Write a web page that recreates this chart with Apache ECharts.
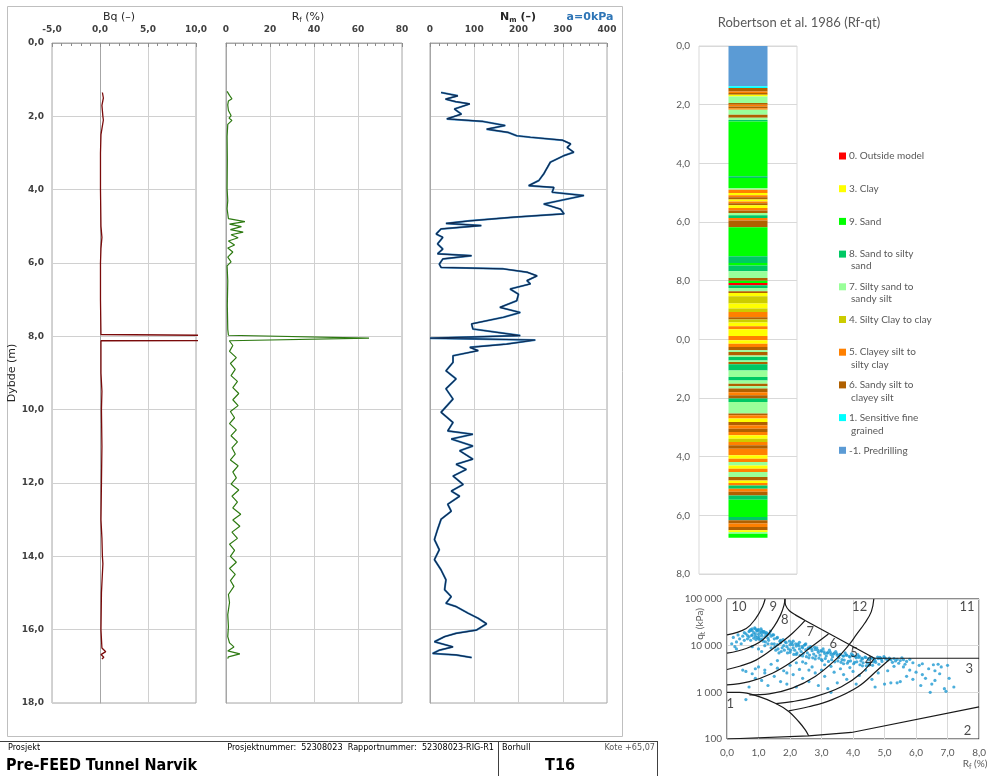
<!DOCTYPE html>
<html>
<head>
<meta charset="utf-8">
<script src="https://cdn.jsdelivr.net/npm/echarts@6/dist/echarts.min.js"></script>
<style>
  html, body { margin: 0; padding: 0; background: #fff; }
  #chart { width: 989px; height: 776px; }
</style>
</head>
<body>
<div id="chart"></div>
<script>
// ---- CPT sounding T16 ----
var bqDepth = [1.35, 1.5, 1.7, 2.0, 2.1, 2.5, 3.0, 4.0, 5.0, 5.3, 5.6, 6.0, 7.0, 7.95, 8.03, 8.10, 8.12, 9.0, 9.5, 10.0, 11.0, 12.0, 13.0, 13.5, 14.0, 14.2, 15.0, 16.0, 16.5, 16.6, 16.68, 16.75, 16.8];
var bqValue = [0.25, 0.35, 0.2, 0.3, 0.35, 0.1, 0.05, 0.05, 0.1, 0.2, 0.1, 0.05, 0.05, 0.1, 40, 40, 0.1, 0.1, 0.2, 0.15, 0.2, 0.15, 0.1, 0.2, 0.25, 0.3, 0.15, 0.1, 0.2, 0.6, 0.1, 0.4, 0.2];

var rfDepth = [1.32, 1.43, 1.52, 1.58, 1.69, 1.84, 1.98, 2.05, 2.11, 2.22, 2.55, 3.2, 3.97, 4.30, 4.52, 4.79, 4.87, 4.94, 5.01, 5.09, 5.16, 5.23, 5.31, 5.40, 5.51, 5.59, 5.70, 5.84, 5.97, 6.08, 6.49, 7.15, 7.81, 7.97, 8.05, 8.12,
  8.25, 8.41, 8.58, 8.74, 8.90, 9.07, 9.23, 9.40, 9.56, 9.73, 9.89, 10.05, 10.22, 10.38, 10.55, 10.71, 10.88, 11.04, 11.21, 11.37, 11.53, 11.70, 11.86, 12.03, 12.19, 12.36, 12.52, 12.68, 12.85, 13.01, 13.18, 13.34, 13.51, 13.67, 13.84, 14.0,
  14.16, 14.33, 14.49, 14.66, 14.82, 15.04, 15.26, 15.59, 15.92, 16.19, 16.36, 16.47, 16.58, 16.66, 16.74, 16.79];
var rfValue = [0.5, 1.6, 2.7, 1.1, 0.8, 1.1, 2.3, 1.4, 2.7, 0.8, 0.5, 0.6, 0.5, 0.8, 0.5, 1.1, 8.6, 1.6, 7.0, 2.0, 7.8, 2.3, 5.5, 1.1, 3.9, 0.8, 3.1, 0.8, 2.3, 0.5, 0.8, 0.6, 0.8, 1.1, 65, 1.5,
  3.1, 1.6, 4.7, 2.0, 4.2, 2.3, 5.2, 3.1, 5.8, 3.1, 5.5, 2.0, 3.9, 1.6, 4.7, 2.3, 5.2, 2.7, 4.2, 2.0, 5.5, 3.1, 4.7, 2.3, 5.8, 2.7, 5.2, 3.1, 6.7, 3.1, 6.3, 2.7, 5.2, 1.6, 3.9, 2.0,
  4.7, 1.6, 4.2, 2.0, 3.6, 1.1, 1.6, 0.8, 1.1, 0.8, 1.6, 3.6, 0.8, 6.3, 1.1, 0.8];

var nmDepth = [1.35, 1.44, 1.53, 1.60, 1.66, 1.80, 1.94, 2.07, 2.14, 2.19, 2.25, 2.35, 2.44, 2.53, 2.57, 2.65, 2.75, 2.85, 2.98, 3.07, 3.25, 3.44, 3.57, 3.75, 3.89, 3.94, 4.07, 4.16, 4.39, 4.53, 4.66, 4.75, 4.85, 4.92, 4.98, 5.07,
  5.21, 5.30, 5.48, 5.62, 5.75, 5.80, 5.89, 6.03, 6.12, 6.16, 6.25, 6.35, 6.48, 6.57, 6.71, 6.85, 7.03, 7.21, 7.35, 7.48, 7.66, 7.80, 7.98, 8.05, 8.10, 8.21, 8.30, 8.39, 8.53, 8.71, 8.94, 9.16, 9.43, 9.71,
  10.07, 10.35, 10.58, 10.67, 10.80, 10.99, 11.12, 11.35, 11.49, 11.63, 11.81, 12.04, 12.22, 12.36, 12.58, 12.77, 12.99, 13.27, 13.54, 13.82, 14.09, 14.37, 14.64, 14.91, 15.10, 15.28, 15.37, 15.55, 15.69, 15.84,
  16.01, 16.10, 16.19, 16.33, 16.47, 16.56, 16.65, 16.69, 16.76];
var nmValue = [25, 63, 35, 58, 90, 55, 71, 38, 120, 124, 170, 128, 177, 196, 227, 299, 318, 310, 325, 303, 272, 263, 257, 246, 223, 280, 276, 348, 257, 295, 303, 189, 90, 36, 116, 25,
  14, 29, 17, 29, 17, 94, 29, 21, 25, 166, 219, 242, 219, 227, 181, 200, 196, 158, 204, 166, 94, 97, 204, 0, 238, 173, 90, 109, 52, 52, 36, 59, 36, 52,
  25, 52, 40, 97, 48, 97, 67, 97, 59, 82, 52, 75, 48, 67, 40, 48, 25, 17, 10, 21, 10, 25, 36, 33, 48, 36, 59, 86, 109, 128,
  105, 59, 33, 10, 52, 21, 6, 59, 94];

// ---- Robertson et al. 1986 soil column ----
var classCodes = [0, 3, 9, 8, 7, 4, 5, 6, 1, -1];
var classNames = ['0. Outside model', '3. Clay', '9. Sand', '8. Sand to silty sand', '7. Silty sand to sandy silt', '4. Silty Clay to clay',
  '5. Clayey silt to silty clay', '6. Sandy silt to clayey silt', '1. Sensitive fine grained', '-1. Predrilling'];
var classColors = ['#FF0000', '#FFFF00', '#00FF00', '#00C864', '#99FF99', '#CCCC00', '#FF8000', '#B06000', '#00FFFF', '#5B9BD5'];

var layerBottom = [1.375, 1.43, 1.55, 1.60, 1.66, 1.72, 1.94, 2.00, 2.06, 2.12, 2.17, 2.34, 2.45, 2.52, 2.57, 4.44, 4.50, 4.84, 4.90, 5.01,
  5.09, 5.16, 5.23, 5.30, 5.36, 5.43, 5.52, 5.61, 5.69, 5.77, 5.86, 5.95, 6.18, 7.17, 7.40, 7.48, 7.68, 7.91, 8.00, 8.08,
  8.16, 8.25, 8.36, 8.42, 8.53, 8.78, 8.95, 9.07, 9.25, 9.32, 9.43, 9.55, 9.66, 9.89, 10.03, 10.15, 10.26, 10.37, 10.43, 10.55,
  10.60, 10.72, 10.77, 10.85, 11.06, 11.28, 11.40, 11.51, 11.60, 11.68, 11.80, 11.91, 12.02, 12.14, 12.53, 12.59, 12.70, 12.82, 12.93, 13.05,
  13.16, 13.27, 13.39, 13.50, 13.61, 13.73, 13.95, 14.07, 14.18, 14.30, 14.41, 14.52, 14.69, 14.81, 14.90, 14.98, 15.09, 15.20, 15.32, 15.47,
  16.06, 16.17, 16.28, 16.40, 16.51, 16.57, 16.63, 16.76];
var layerClass = [-1, 1, 6, 5, 6, 3, 7, 6, 5, 6, 5, 7, 6, 7, 8, 9, 8, 9, 7, 5,
  3, 5, 6, 3, 5, 6, 3, 5, 6, 7, 8, 5, 6, 9, 8, 9, 8, 7, 6, 9,
  0, 8, 7, 6, 3, 4, 3, 4, 5, 6, 4, 3, 5, 3, 5, 3, 5, 6, 7, 6,
  7, 8, 7, 6, 8, 7, 8, 7, 6, 7, 6, 5, 6, 8, 7, 6, 5, 3, 6, 5,
  6, 5, 3, 4, 5, 6, 5, 3, 5, 7, 3, 5, 7, 6, 3, 5, 8, 5, 6, 8,
  9, 8, 6, 5, 6, 3, 7, 9];

// ---- Rf - qt classification chart ----
var pointRf = [0.7, 0.75, 0.8, 0.85, 0.9, 0.95, 1.0, 1.05, 1.1, 1.15, 1.2, 1.25, 1.3, 1.35, 0.8, 0.9, 1.0, 1.1, 0.7, 0.85, 0.95, 1.2, 1.4, 1.5, 0.6, 0.65, 1.05, 1.3, 0.75, 1.15, 1.45, 0.55, 0.9, 1.0, 1.25, 0.8, 0.95, 1.1, 1.6, 1.7,
  0.2, 0.25, 0.3, 0.35, 0.4, 0.45, 0.5, 0.3, 0.55, 0.15,
  1.5, 1.6, 1.7, 1.8, 1.9, 2.0, 2.1, 2.2, 2.3, 2.4, 2.5, 2.6, 2.7, 2.8, 2.9, 3.0, 3.1, 3.2, 3.3, 3.4, 3.5, 1.75, 1.85, 1.95, 2.05, 2.15, 2.25, 2.35, 2.45, 2.55, 2.65, 2.75, 2.85, 2.95, 3.05, 3.15, 3.25, 3.35, 3.45, 3.55,
  1.55, 1.65, 2.0, 2.2, 2.4, 2.6, 2.8, 3.0, 2.1, 2.3, 2.5, 1.2, 1.3, 1.4, 1.0, 0.8, 1.1,
  3.6, 3.7, 3.8, 3.9, 4.0, 4.1, 4.2, 4.3, 4.4, 4.5, 4.6, 4.7, 4.8, 4.9, 5.0, 3.65, 3.85, 4.05, 4.25, 4.45, 4.65, 4.85, 3.75, 3.95, 4.15,
  5.05, 5.1, 5.15, 5.2, 5.3, 5.35, 5.4, 5.5, 5.6, 5.7, 5.8, 5.25, 5.45, 5.65, 5.9, 5.55,
  5.6, 5.8, 6.0, 6.1, 6.2, 6.3, 6.4, 6.5, 6.55, 6.6, 6.7, 6.75, 6.8, 6.9, 7.0, 7.05, 6.45, 6.95, 7.2, 5.4, 5.2, 5.5, 5.0, 5.7, 6.15,
  0.6, 0.7, 0.5, 0.6, 0.8, 0.9, 1.0, 1.1, 1.2, 1.3, 1.5, 1.6, 1.7, 1.8, 1.9, 2.0, 2.1, 2.2, 2.3, 2.4, 2.5, 2.6, 2.7, 2.8, 2.9, 3.0, 3.1, 3.2, 3.3, 3.4, 3.5, 3.6, 3.7, 3.8, 3.9, 4.0, 4.1, 4.2, 4.4, 4.6, 4.7, 3.3, 4.3, 2.4, 1.4,
  0.65, 0.72, 0.78, 0.88, 0.92, 0.98, 1.02, 1.08, 1.12, 1.18, 1.22, 1.28, 1.32, 1.38, 1.42, 1.48, 1.52, 1.58, 1.62, 1.68, 1.72, 1.78, 1.82, 1.88, 1.92, 1.98, 2.02, 2.08, 2.12, 2.18,
  2.22, 2.28, 2.32, 2.38, 2.42, 2.48, 2.52, 2.58, 2.62, 2.68, 2.72, 2.78, 2.82, 2.88, 2.92, 2.98, 3.02, 3.08, 3.12, 3.18, 3.22, 3.28, 3.32, 3.38, 3.42, 3.48, 3.52, 3.58, 3.62, 3.68,
  3.72, 3.78, 3.82, 3.88, 3.92, 3.98, 4.02, 4.08, 4.12, 4.18, 4.22, 4.28, 4.32, 4.38, 4.42, 4.48, 4.52, 4.58, 4.62, 4.68, 4.72, 4.78, 4.82, 4.88, 4.92, 4.98,
  1.9, 2.6, 3.1, 2.2, 1.6, 1.2, 0.9, 3.7, 4.5, 4.8, 5.1, 5.3, 6.2, 6.6, 5.9];
var pointQt = [20000, 22000, 21000, 19000, 23000, 20500, 22000, 19500, 21000, 20000, 18500, 19000, 17500, 18000, 17000, 16000, 17500, 16500, 15500, 14500, 15000, 15500, 16000, 14000, 18000, 16500, 13500, 14500, 13000, 12500, 17000, 19000, 18000, 14000, 16500, 23000, 21500, 18500, 15000, 13000,
  15000, 9500, 12000, 17000, 14000, 11000, 16000, 8500, 13000, 11000,
  11000, 10500, 11500, 10000, 9500, 10500, 9000, 9800, 8500, 9000, 8200, 8800, 7800, 8300, 7200, 7600, 6800, 7100, 6500, 6900, 6200, 9000, 12000, 8500, 11500, 8000, 10800, 7500, 10200, 7000, 9500, 6600, 9000, 6300, 8500, 6000, 8000, 5800, 7500, 5600,
  8000, 7000, 7200, 6500, 6000, 5500, 5200, 5000, 12500, 11800, 11000, 10000, 11000, 9000, 8500, 9500, 7500,
  6500, 6000, 6300, 5700, 6100, 5500, 5900, 5200, 5600, 5000, 5400, 4800, 5300, 5100, 5500, 5000, 4600, 4400, 4700, 4300, 4500, 5600, 7000, 6700, 6400,
  5200, 4900, 5400, 5000, 5300, 4700, 5100, 4800, 5000, 4600, 5100, 4400, 4200, 4000, 4300, 5500,
  3500, 3000, 2700, 3800, 2400, 2000, 3200, 1500, 3900, 1800, 4000, 2500, 3500, 1200, 3800, 2000, 1000, 1050, 1300, 1600, 1600, 1700, 1500, 2200, 1400,
  700, 1300, 3000, 2800, 2500, 2000, 3500, 1800, 2600, 1400, 2200, 3300, 1700, 2900, 1500, 3800, 2400, 1300, 3100, 2000, 4200, 1700, 3500, 2600, 1400, 3000, 2200, 1200, 3600, 2700, 1600, 3200, 2400, 1900, 3400, 2800, 1500, 2300, 3000, 1900, 1300, 1000, 3700, 4500, 4000,
  14000, 21000, 16500, 24000, 13500, 21500, 15500, 23000, 14000, 20000, 12000, 18000, 13000, 20500, 11000, 17000, 9500, 14500, 8500, 12500, 7500, 13500, 8000, 11500, 7000, 12500, 8000, 10500, 6500, 11000,
  7000, 10000, 6200, 9500, 6800, 10500, 5800, 9000, 6300, 8700, 5500, 9200, 6000, 8000, 5400, 7800, 4800, 7400, 5300, 6900, 4600, 7200, 5000, 6600, 4500, 6800, 4700, 6400, 4400, 6000,
  4900, 6300, 4200, 5900, 4700, 6200, 4100, 5800, 4500, 5600, 3900, 5400, 4300, 5700, 3700, 5300, 4100, 5500, 3800, 5200, 4400, 5700, 4000, 5400, 4600, 5800,
  2600, 3000, 3900, 4300, 4800, 3000, 3200, 4100, 3800, 2600, 2900, 3600, 4100, 2900, 1900];

// zone boundaries, [Rf, qt]
var boundaries = [
  { smooth: 0.4, pts: [[0, 17000], [0.61, 23400], [0.92, 38900], [1.13, 69200], [1.21, 100000]] },
  { smooth: 0.4, pts: [[1.84, 100000], [1.81, 74000], [1.70, 45700], [1.49, 25700], [1.13, 13200], [0.61, 8700], [0, 6900]] },
  { smooth: 0.3, pts: [[1.84, 100000], [1.86, 74000], [1.98, 56000], [2.17, 45700], [2.48, 34700]] },
  { smooth: false, pts: [[2.48, 34700], [4.68, 5370], [8, 5370]] },
  { smooth: 0.4, pts: [[2.48, 34700], [2.07, 18200], [1.55, 9550], [0.92, 4900], [0.40, 3630], [0, 3090]] },
  { smooth: 0.4, pts: [[3.22, 17800], [2.69, 9550], [2.07, 4570], [1.44, 2570], [0.71, 1700], [0, 1445]] },
  { smooth: 0.4, pts: [[4.66, 100000], [4.58, 53700], [4.37, 30200], [4.10, 17000], [3.90, 11000], [3.43, 4900], [2.80, 2190], [2.07, 1230], [1.34, 930], [0.71, 880]] },
  { smooth: 0.4, pts: [[4.68, 5370], [4.26, 2570], [3.63, 1320], [2.80, 810], [2.07, 630], [1.55, 575]] },
  { smooth: 0.4, pts: [[5.2, 5370], [4.78, 3020], [4.16, 1320], [3.32, 690], [2.59, 490], [1.96, 400]] },
  { smooth: 0.4, pts: [[0, 1000], [0.40, 1000], [1.02, 810], [1.55, 575], [1.96, 390], [2.28, 234], [2.49, 155], [2.59, 117]] },
  { smooth: false, pts: [[0, 100], [2.59, 117], [3.95, 138], [8, 490]] }
];
var zoneNames = ['10', '9', '8', '7', '6', '5', '4', '3', '2', '1', '11', '12'];
var zoneRf = [0.38, 1.47, 1.83, 2.64, 3.37, 4.03, 4.50, 7.69, 7.63, 0.10, 7.62, 4.21];
var zoneQt = [69000, 69000, 35500, 19500, 11200, 6900, 4400, 3240, 151, 560, 69000, 69000];

var depthTicks = 2;
var fLeft = 'DejaVu Sans';
var fRight = 'Lato';

function comma1(v) { return v.toFixed(1).replace('.', ','); }
function pairs(xs, ys) { return xs.map(function (x, i) { return [x, ys[i]]; }); }

var chart = echarts.init(document.getElementById('chart'), null, { renderer: 'canvas' });

var panelAxisX = function (idx, min, max, step, fmt) {
  return {
    gridIndex: idx, type: 'value', position: 'top', min: min, max: max, interval: step,
    axisLine: { show: true, lineStyle: { color: '#A6A6A6' } },
    axisTick: { show: true, inside: true, length: 4, lineStyle: { color: '#8C8C8C' } },
    minorTick: { show: true, splitNumber: 5, length: 3, lineStyle: { color: '#8C8C8C' } },
    splitLine: { show: true, lineStyle: { color: '#D0D0D0' } },
    axisLabel: { margin: 9, fontFamily: fLeft, fontSize: 9, fontWeight: 'bold', color: '#404040', formatter: fmt }
  };
};
var panelAxisY = function (idx, showLabel) {
  return {
    gridIndex: idx, type: 'value', inverse: true, min: 0, max: 18, interval: depthTicks,
    axisLine: { show: true, lineStyle: { color: '#A6A6A6' } },
    axisTick: { show: false },
    splitLine: { show: true, lineStyle: { color: '#D0D0D0' } },
    axisLabel: { show: showLabel, margin: 8, fontFamily: fLeft, fontSize: 9, fontWeight: 'bold', color: '#404040', formatter: comma1 },
    name: showLabel ? 'Dybde (m)' : '', nameLocation: 'middle', nameGap: 33,
    nameTextStyle: { fontFamily: fLeft, fontSize: 11, color: '#262626' }
  };
};

var series = [];
series.push({ type: 'line', xAxisIndex: 0, yAxisIndex: 0, data: pairs(bqValue, bqDepth), showSymbol: false, clip: true,
  lineStyle: { color: '#7A0A0A', width: 1.3 } });
series.push({ type: 'line', xAxisIndex: 1, yAxisIndex: 1, data: pairs(rfValue, rfDepth), showSymbol: false, clip: true,
  lineStyle: { color: '#2E7A12', width: 1.2 } });
series.push({ type: 'line', xAxisIndex: 2, yAxisIndex: 2, data: pairs(nmValue, nmDepth), showSymbol: false, clip: true,
  lineStyle: { color: '#3C8CC8', width: 2 } });
series.push({ type: 'line', xAxisIndex: 2, yAxisIndex: 2, data: pairs(nmValue, nmDepth), showSymbol: false, clip: true,
  lineStyle: { color: '#102A50', width: 1.2 } });

// soil column, stacked from the surface down
var prev = 0;
layerBottom.forEach(function (bot, i) {
  var k = classCodes.indexOf(layerClass[i]);
  series.push({
    type: 'bar', name: classNames[k], xAxisIndex: 3, yAxisIndex: 3, stack: 'soil', barWidth: 39,
    data: [+(bot - prev).toFixed(3)], itemStyle: { color: classColors[k] }
  });
  prev = bot;
});

series.push({ type: 'scatter', xAxisIndex: 4, yAxisIndex: 4, data: pairs(pointRf, pointQt), symbolSize: 3.2,
  itemStyle: { color: '#1F9AD2' }, z: 3 });
boundaries.forEach(function (b) {
  series.push({ type: 'line', xAxisIndex: 4, yAxisIndex: 4, data: b.pts, smooth: b.smooth, showSymbol: false, clip: true,
    lineStyle: { color: '#1A1A1A', width: 1.2 }, z: 4 });
});
series.push({ type: 'scatter', xAxisIndex: 4, yAxisIndex: 4, symbolSize: 0, z: 5,
  data: zoneNames.map(function (n, i) { return { value: [zoneRf[i], zoneQt[i]], name: n }; }),
  label: { show: true, position: 'inside', formatter: '{b}', fontFamily: fRight, fontSize: 13, color: '#1A1A1A' } });

function fmtThousands(v) { return String(Math.round(v)).replace(/\B(?=(\d{3})+(?!\d))/g, ' '); }

var option = {
  animation: false,
  backgroundColor: '#fff',
  grid: [
    { left: 52, top: 43, width: 144, height: 660, show: true, borderColor: '#A6A6A6', borderWidth: 1 },
    { left: 226, top: 43, width: 176, height: 660, show: true, borderColor: '#A6A6A6', borderWidth: 1 },
    { left: 430, top: 43, width: 177, height: 660, show: true, borderColor: '#A6A6A6', borderWidth: 1 },
    { left: 699, top: 46, width: 98, height: 528, show: true, borderColor: '#D9D9D9', borderWidth: 1 },
    { left: 727, top: 599, width: 256, height: 140, show: true, borderColor: '#1A1A1A', borderWidth: 1 }
  ],
  xAxis: [
    panelAxisX(0, -5, 10, 5, comma1),
    panelAxisX(1, 0, 80, 20, function (v) { return String(v); }),
    panelAxisX(2, 0, 400, 100, function (v) { return String(v); }),
    { gridIndex: 3, type: 'category', data: ['T16'], axisLine: { show: false }, axisTick: { show: false }, axisLabel: { show: false } },
    { gridIndex: 4, type: 'value', min: 0, max: 8, interval: 1,
      axisLine: { show: false }, axisTick: { show: false },
      splitLine: { show: true, lineStyle: { color: '#D9D9D9' } },
      axisLabel: { margin: 9, fontFamily: fRight, fontSize: 10, color: '#595959', formatter: comma1 } }
  ],
  yAxis: [
    panelAxisY(0, true), panelAxisY(1, false), panelAxisY(2, false),
    { gridIndex: 3, type: 'value', inverse: true, min: 0, max: 18, interval: depthTicks,
      axisLine: { show: false }, axisTick: { show: false },
      splitLine: { show: true, lineStyle: { color: '#D9D9D9' } },
      axisLabel: { margin: 9, fontFamily: fRight, fontSize: 10, color: '#595959',
        formatter: function (v) { return comma1(v % 10); } } },
    { gridIndex: 4, type: 'log', logBase: 10, min: 100, max: 100000,
      axisLine: { show: false }, axisTick: { show: false },
      splitLine: { show: true, lineStyle: { color: '#D9D9D9' } },
      axisLabel: { margin: 5, fontFamily: fRight, fontSize: 10, color: '#595959', formatter: fmtThousands } }
  ],
  legend: {
    data: classNames, orient: 'vertical', left: 839, top: 151, padding: 0,
    itemWidth: 7, itemHeight: 7, itemGap: 22.7, icon: 'rect', selectedMode: false,
    formatter: function (n) {
      var parts = { '8. Sand to silty sand': '8. Sand to silty', '7. Silty sand to sandy silt': '7. Silty sand to',
        '5. Clayey silt to silty clay': '5. Clayey silt to', '6. Sandy silt to clayey silt': '6. Sandy silt to',
        '1. Sensitive fine grained': '1. Sensitive fine' };
      return parts[n] || n;
    },
    textStyle: { fontFamily: fRight, fontSize: 10, color: '#595959', padding: [0, 0, 0, -2] }
  },
  graphic: [
    // frame of the log
    { type: 'rect', shape: { x: 7.5, y: 6.5, width: 615, height: 730 }, style: { fill: 'none', stroke: '#BFBFBF', lineWidth: 1 }, silent: true },
    { type: 'text', x: 119, y: 17, style: { text: 'Bq (–)', font: '11px "DejaVu Sans"', fill: '#262626', align: 'center', verticalAlign: 'middle' } },
    { type: 'text', x: 308, y: 17, style: { text: 'R{s|f} (%)', font: '11px "DejaVu Sans"', fill: '#262626', align: 'center', verticalAlign: 'middle',
      rich: { s: { fontSize: 7, fontFamily: fLeft, padding: [6, 0, 0, 0], fill: '#262626' } } } },
    { type: 'text', x: 518, y: 17, style: { text: 'N{s|m} (–)', font: 'bold 11px "DejaVu Sans"', fill: '#262626', align: 'center', verticalAlign: 'middle',
      rich: { s: { fontSize: 7, fontWeight: 'bold', fontFamily: fLeft, padding: [6, 0, 0, 0], fill: '#262626' } } } },
    { type: 'text', x: 590, y: 17, style: { text: 'a=0kPa', font: 'bold 11px "DejaVu Sans"', fill: '#2E75B6', align: 'center', verticalAlign: 'middle' } },
    // right column titles
    { type: 'text', x: 799, y: 23, style: { text: 'Robertson et al. 1986 (Rf-qt)', font: '13px Lato', fill: '#595959', align: 'center', verticalAlign: 'middle' } },
    { type: 'text', x: 851, y: 266, style: { text: 'sand', font: '10px Lato', fill: '#595959', verticalAlign: 'middle' } },
    { type: 'text', x: 851, y: 299, style: { text: 'sandy silt', font: '10px Lato', fill: '#595959', verticalAlign: 'middle' } },
    { type: 'text', x: 851, y: 365, style: { text: 'silty clay', font: '10px Lato', fill: '#595959', verticalAlign: 'middle' } },
    { type: 'text', x: 851, y: 398, style: { text: 'clayey silt', font: '10px Lato', fill: '#595959', verticalAlign: 'middle' } },
    { type: 'text', x: 851, y: 431, style: { text: 'grained', font: '10px Lato', fill: '#595959', verticalAlign: 'middle' } },
    { type: 'text', x: 700, y: 624, rotation: Math.PI / 2, style: { text: 'q{s|t} (kPa)', font: '10px Lato', fill: '#595959', align: 'center', verticalAlign: 'middle',
      rich: { s: { fontSize: 7, fontFamily: fRight, padding: [5, 0, 0, 0], fill: '#595959' } } } },
    { type: 'text', x: 975, y: 764, style: { text: 'R{s|f} (%)', font: '10px Lato', fill: '#595959', align: 'center', verticalAlign: 'middle',
      rich: { s: { fontSize: 7, fontFamily: fRight, padding: [5, 0, 0, 0], fill: '#595959' } } } },
    // footer
    { type: 'line', shape: { x1: 0, y1: 741.5, x2: 657, y2: 741.5 }, style: { stroke: '#404040', lineWidth: 1 }, silent: true },
    { type: 'line', shape: { x1: 498.5, y1: 741, x2: 498.5, y2: 776 }, style: { stroke: '#404040', lineWidth: 1 }, silent: true },
    { type: 'line', shape: { x1: 657.5, y1: 741, x2: 657.5, y2: 776 }, style: { stroke: '#404040', lineWidth: 1 }, silent: true },
    { type: 'text', x: 8, y: 748, style: { text: 'Prosjekt', font: '9px "DejaVu Sans Condensed", "DejaVu Sans"', fill: '#000', verticalAlign: 'middle' } },
    { type: 'text', x: 494, y: 748, style: { text: 'Prosjektnummer:  52308023  Rapportnummer:  52308023-RIG-R1', font: '9px "DejaVu Sans Condensed", "DejaVu Sans"', fill: '#000', align: 'right', verticalAlign: 'middle' } },
    { type: 'text', x: 502, y: 748, style: { text: 'Borhull', font: '9px "DejaVu Sans Condensed", "DejaVu Sans"', fill: '#000', verticalAlign: 'middle' } },
    { type: 'text', x: 655, y: 748, style: { text: 'Kote +65,07', font: '9px "DejaVu Sans Condensed", "DejaVu Sans"', fill: '#595959', align: 'right', verticalAlign: 'middle' } },
    { type: 'text', x: 6, y: 766, style: { text: 'Pre-FEED Tunnel Narvik', font: 'bold 16px "DejaVu Sans Condensed", "DejaVu Sans"', fill: '#000', verticalAlign: 'middle' } },
    { type: 'text', x: 560, y: 766, style: { text: 'T16', font: 'bold 16px "DejaVu Sans Condensed", "DejaVu Sans"', fill: '#000', align: 'center', verticalAlign: 'middle' } }
  ],
  series: series
};

chart.setOption(option);
</script>
</body>
</html>
